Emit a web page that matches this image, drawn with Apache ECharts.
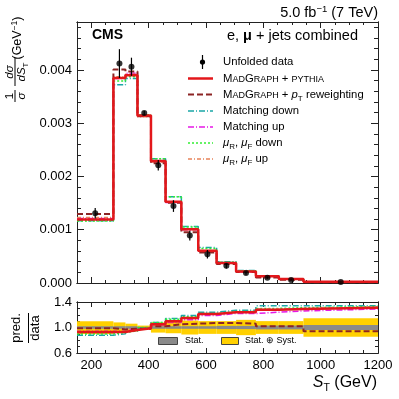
<!DOCTYPE html>
<html>
<head>
<meta charset="utf-8">
<script src="https://cdn.jsdelivr.net/npm/echarts@6/dist/echarts.min.js"></script>
<style>
  html, body { margin: 0; padding: 0; background: #fff; }
  #chart { width: 399px; height: 399px; }
</style>
</head>
<body>
<div id="chart"></div>
<script>
// S_T bins (GeV) and normalised cross sections (1/GeV)
var binEdges = [150, 277, 319, 361, 408, 459, 514, 573, 637, 705, 774, 854, 940, 1200];
var dataVals = [0.00131, 0.00412, 0.00406, 0.00319, 0.00221, 0.001445, 0.00089, 0.00054, 0.000323, 0.000187, 0.000100, 0.000058, 0.000017];
var dataErr  = [0.00010, 0.00027, 0.00017, 0.00004, 0.00010, 0.00011, 0.00009, 0.00008, 0.00005, 0.00003, 0.00002, 0.000012, 0.000005];
var madgraph  = [0.00119, 0.00385, 0.00390, 0.003146, 0.00229, 0.001525, 0.00101, 0.000604, 0.000374, 0.000217, 0.000128, 0.000075, 0.000022];
var ptReweight = [0.001295, 0.00401, 0.00397, 0.00313, 0.00225, 0.001505, 0.000955, 0.000572, 0.000355, 0.000205, 0.000104, 0.000060, 0.000016];
var matchDown = [0.00117, 0.00372, 0.00384, 0.00315, 0.002335, 0.00162, 0.00106, 0.000665, 0.00040, 0.000235, 0.000138, 0.000078, 0.000023];
var matchUp   = [0.00121, 0.00384, 0.00394, 0.00314, 0.00228, 0.00151, 0.00100, 0.00060, 0.00037, 0.00021, 0.000125, 0.000072, 0.000022];
var scaleDown = [0.001165, 0.00379, 0.00387, 0.00316, 0.002335, 0.00162, 0.00105, 0.00065, 0.00039, 0.00023, 0.000135, 0.000075, 0.000023];
var scaleUp   = [0.00123, 0.00387, 0.00392, 0.00312, 0.00227, 0.00152, 0.00100, 0.00060, 0.00037, 0.000215, 0.000127, 0.000074, 0.000022];

// ratio pred./data
var ratioMadgraph  = [0.93, 0.93, 0.96, 0.99, 1.05, 1.10, 1.15, 1.21, 1.24, 1.24, 1.28, 1.29, 1.31];
var ratioPtReweight = [0.99, 0.97, 0.98, 0.98, 1.02, 1.05, 1.06, 1.07, 1.07, 1.06, 1.02, 1.02, 0.94];
var ratioMatchDown = [0.88, 0.90, 0.94, 0.99, 1.08, 1.14, 1.19, 1.24, 1.27, 1.27, 1.34, 1.34, 1.34];
var ratioMatchUp   = [0.92, 0.93, 0.97, 0.99, 1.04, 1.08, 1.12, 1.19, 1.22, 1.22, 1.24, 1.26, 1.29];
var ratioScaleDown = [0.90, 0.92, 0.95, 1.00, 1.08, 1.13, 1.17, 1.22, 1.25, 1.25, 1.30, 1.31, 1.33];
var ratioScaleUp   = [0.95, 0.95, 0.97, 0.98, 1.04, 1.09, 1.14, 1.21, 1.24, 1.25, 1.29, 1.30, 1.32];
var statBand     = [0.02, 0.02, 0.02, 0.01, 0.02, 0.02, 0.02, 0.02, 0.025, 0.025, 0.03, 0.03, 0.04];
var statSystBand = [0.10, 0.08, 0.06, 0.03, 0.08, 0.09, 0.11, 0.10, 0.10, 0.12, 0.10, 0.10, 0.145];

// tick labels
var xLabels = [200, 400, 600, 800, 1000, 1200];
var yLabels = [0, 0.001, 0.002, 0.003, 0.004];
var ratioLabels = [0.6, 1.0, 1.4];

var FONT = '"Liberation Sans", Arial, Helvetica, sans-serif';

function range(a, b, step) {
  var out = [];
  for (var v = a; v <= b + step * 1e-6; v += step) out.push(Math.round(v / step) * step);
  return out;
}
var xMinor = range(150, 1200, 50);
var yMinor = range(0, 0.0048, 0.0002);
var ratioMinor = range(0.6, 1.4, 0.1);

function mkAxis(grid, pos, min, max, ticks, len, labels, digits) {
  var a = {
    type: 'value', gridIndex: grid, position: pos, min: min, max: max,
    axisLine: { show: true, onZero: false, lineStyle: { color: '#222', width: 1 } },
    axisTick: { show: true, inside: true, length: len, customValues: ticks, lineStyle: { color: '#222', width: 1 } },
    splitLine: { show: false },
    axisLabel: { show: false }
  };
  if (labels) {
    a.axisLabel = {
      show: true, customValues: labels, color: '#000', fontSize: 13, fontFamily: FONT,
      margin: pos === 'left' ? 5 : 6,
      formatter: function (v) { return v.toFixed(digits); }
    };
  }
  return a;
}

function stepData(vals) {
  var d = [];
  for (var i = 0; i < vals.length; i++) d.push([binEdges[i], vals[i]]);
  d.push([binEdges[binEdges.length - 1], vals[vals.length - 1]]);
  return d;
}

function stepLine(vals, panel, color, width, dash, z) {
  return {
    type: 'line', step: 'end', xAxisIndex: panel, yAxisIndex: panel,
    data: stepData(vals), symbol: 'none', silent: true, z: z,
    lineStyle: { color: color, width: width, type: dash }
  };
}

function bandSeries(half, color, z) {
  var d = [];
  for (var i = 0; i < half.length; i++) d.push([binEdges[i], binEdges[i + 1], 1 - half[i], 1 + half[i]]);
  return {
    type: 'custom', xAxisIndex: 1, yAxisIndex: 1, data: d, silent: true, z: z,
    encode: { x: [0, 1], y: [2, 3] },
    renderItem: function (params, api) {
      var a = api.coord([api.value(0), api.value(3)]);
      var b = api.coord([api.value(1), api.value(2)]);
      return { type: 'rect', shape: { x: a[0], y: a[1], width: b[0] - a[0], height: b[1] - a[1] }, style: { fill: color } };
    }
  };
}

var centers = [];
for (var i = 0; i < dataVals.length; i++) centers.push((binEdges[i] + binEdges[i + 1]) / 2);

var styles = {
  red: ['#e3171b', 2.5, 'solid'],
  brown: ['#8c2424', 2, [6, 3]],
  cyan: ['#1aa6a6', 1.5, [6, 2, 1, 2]],
  magenta: ['#e619e6', 1.5, [6, 2, 1, 2]],
  green: ['#33ee33', 1.5, [2, 2]],
  orange: ['#e8825a', 1.5, [4, 2, 1, 2]]
};

var series = [];
[[matchDown, ratioMatchDown, 'cyan'], [matchUp, ratioMatchUp, 'magenta'], [scaleDown, ratioScaleDown, 'green'],
 [scaleUp, ratioScaleUp, 'orange'], [ptReweight, ratioPtReweight, 'brown'], [madgraph, ratioMadgraph, 'red']]
.forEach(function (m, k) {
  var s = styles[m[2]];
  series.push(stepLine(m[0], 0, s[0], s[1], s[2], 3 + k));
  series.push(stepLine(m[1], 1, s[0], s[1], s[2], 3 + k));
});
series.push(bandSeries(statSystBand, '#ffd000', 1));
series.push(bandSeries(statBand, '#8a8a8a', 2));
series.push({
  type: 'custom', xAxisIndex: 0, yAxisIndex: 0, silent: true, z: 10,
  data: dataVals.map(function (v, i) { return [centers[i], v - dataErr[i], v + dataErr[i]]; }),
  encode: { x: 0, y: [1, 2] },
  renderItem: function (params, api) {
    var p1 = api.coord([api.value(0), api.value(1)]);
    var p2 = api.coord([api.value(0), api.value(2)]);
    return { type: 'line', shape: { x1: p1[0], y1: p1[1], x2: p2[0], y2: p2[1] }, style: { stroke: '#000', lineWidth: 1.2 } };
  }
});
series.push({
  type: 'scatter', xAxisIndex: 0, yAxisIndex: 0, silent: true, z: 11,
  symbol: 'circle', symbolSize: 6, itemStyle: { color: '#000' },
  data: dataVals.map(function (v, i) { return [centers[i], v]; })
});

// text helpers
function txt(x, y, text, rich, opt) {
  opt = opt || {};
  return {
    type: 'text', x: x, y: y, rotation: opt.rot || 0, z: 100,
    style: {
      text: text, rich: rich, fill: '#000', fontFamily: FONT, fontSize: opt.size || 10.5,
      fontWeight: opt.weight || 'normal',
      align: opt.align || 'left', textAlign: opt.align || 'left',
      verticalAlign: opt.va || 'top', textVerticalAlign: opt.va || 'top'
    }
  };
}
function ln(x1, y1, x2, y2, color, w, dash) {
  return { type: 'line', z: 100, shape: { x1: x1, y1: y1, x2: x2, y2: y2 }, style: { stroke: color, lineWidth: w, lineDash: dash || null } };
}
// rich token: box of height h, top aligned, so glyphs can be lowered or raised
function tok(size, h, extra) {
  var t = { fontSize: size, height: h, lineHeight: h, verticalAlign: 'top', fontFamily: FONT };
  for (var k in extra) t[k] = extra[k];
  return t;
}

var leg = {
  n: tok(11.3, 13),
  s: tok(9, 14.6),
  it: tok(11.3, 13, { fontStyle: 'italic' }),
  sub: tok(8, 21.3)
};
var big = {
  n: tok(14.5, 16),
  b: tok(14.5, 16, { fontWeight: 'bold' }),
  sup: tok(9.5, 9.6)
};
var xt = {
  it: tok(16, 17, { fontStyle: 'italic' }),
  n: tok(16, 17),
  sub: tok(10.5, 27.8)
};
var yt = {
  n: tok(11.5, 12),
  it: tok(11.5, 12, { fontStyle: 'italic' }),
  sub: tok(8, 20.4),
  g: tok(12.5, 14),
  sup: tok(8.5, 7.8)
};

var rowY = [62, 78.5, 94.5, 111, 127, 143, 159];
var graphics = [
  txt(378, 5, '{n|5.0 fb}{sup|\u22121}{n| (7 TeV)}', big, { align: 'right' }),
  txt(92, 28, 'CMS', null, { size: 14, weight: 'bold' }),
  txt(227, 28, '{n|e, }{b|\u03bc}{n| + jets combined}', big),
  // legend
  ln(202.5, rowY[0] - 7, 202.5, rowY[0] + 7, '#000', 1.2),
  { type: 'circle', z: 100, shape: { cx: 202.5, cy: rowY[0], r: 2.6 }, style: { fill: '#000' } },
  txt(223, rowY[0] - 6.5, '{n|Unfolded data}', leg),
  ln(188, rowY[1], 213, rowY[1], styles.red[0], 2.5),
  txt(223, rowY[1] - 6.5, '{n|M}{s|AD}{n|G}{s|RAPH}{n| + }{s|PYTHIA}', leg),
  ln(188, rowY[2], 213, rowY[2], styles.brown[0], 2, [6, 3]),
  txt(223, rowY[2] - 6.5, '{n|M}{s|AD}{n|G}{s|RAPH}{n| + }{it|p}{sub|T}{n| reweighting}', leg),
  ln(188, rowY[3], 213, rowY[3], styles.cyan[0], 1.5, [6, 2, 1, 2]),
  txt(223, rowY[3] - 6.5, '{n|Matching down}', leg),
  ln(188, rowY[4], 213, rowY[4], styles.magenta[0], 1.5, [6, 2, 1, 2]),
  txt(223, rowY[4] - 6.5, '{n|Matching up}', leg),
  ln(188, rowY[5], 213, rowY[5], styles.green[0], 1.5, [2, 2]),
  txt(223, rowY[5] - 6.5, '{it|\u03bc}{sub|R}{n|, }{it|\u03bc}{sub|F}{n| down}', leg),
  ln(188, rowY[6], 213, rowY[6], styles.orange[0], 1.5, [4, 2, 1, 2]),
  txt(223, rowY[6] - 6.5, '{it|\u03bc}{sub|R}{n|, }{it|\u03bc}{sub|F}{n| up}', leg),
  // y title (main)
  txt(4, 96, '{n|1}', yt, { rot: Math.PI / 2, align: 'center' }),
  ln(15, 90, 15, 102, '#000', 1),
  txt(16, 96, '{it|\u03c3}', yt, { rot: Math.PI / 2, align: 'center' }),
  txt(4, 72, '{it|d\u03c3}', yt, { rot: Math.PI / 2, align: 'center' }),
  ln(15, 58, 15, 86, '#000', 1),
  txt(16, 72, '{it|dS}{sub|T}', yt, { rot: Math.PI / 2, align: 'center' }),
  txt(11, 38, '{g|(GeV}{sup|\u22121}{g|)}', yt, { rot: Math.PI / 2, align: 'center' }),
  // y title (ratio)
  txt(10, 328, 'pred.', null, { rot: Math.PI / 2, align: 'center', size: 13 }),
  ln(28.5, 313, 28.5, 343, '#000', 1),
  txt(29, 328, 'data', null, { rot: Math.PI / 2, align: 'center', size: 13 }),
  // x title
  txt(377, 374.5, '{it|S}{sub|T}{n| (GeV)}', xt, { align: 'right' }),
  // ratio legend
  { type: 'rect', z: 100, shape: { x: 158.5, y: 337.5, width: 19, height: 7 }, style: { fill: '#8a8a8a', stroke: '#444', lineWidth: 1 } },
  txt(185, 336, 'Stat.', null, { size: 9 }),
  { type: 'rect', z: 100, shape: { x: 221.5, y: 337.5, width: 17, height: 7 }, style: { fill: '#ffd000', stroke: '#444', lineWidth: 1 } },
  txt(245, 336, 'Stat. \u2295 Syst.', null, { size: 9 })
];

var myChart = echarts.init(document.getElementById('chart'), null, { renderer: 'canvas' });
var option = {
  animation: false,
  backgroundColor: '#fff',
  grid: [
    { left: 77, top: 22, width: 301, height: 261 },
    { left: 77, top: 302, width: 301, height: 51 }
  ],
  xAxis: [
    mkAxis(0, 'bottom', 150, 1200, xLabels, 6),
    mkAxis(1, 'bottom', 150, 1200, xLabels, 5, xLabels, 0),
    mkAxis(0, 'bottom', 150, 1200, xMinor, 3),
    mkAxis(0, 'top', 150, 1200, xLabels, 6),
    mkAxis(0, 'top', 150, 1200, xMinor, 3),
    mkAxis(1, 'bottom', 150, 1200, xMinor, 3),
    mkAxis(1, 'top', 150, 1200, xLabels, 5),
    mkAxis(1, 'top', 150, 1200, xMinor, 3)
  ],
  yAxis: [
    mkAxis(0, 'left', 0, 0.0049, yLabels, 7, yLabels, 3),
    mkAxis(1, 'left', 0.6, 1.4, ratioLabels, 6, ratioLabels, 1),
    mkAxis(0, 'left', 0, 0.0049, yMinor, 4),
    mkAxis(0, 'right', 0, 0.0049, yLabels, 7),
    mkAxis(0, 'right', 0, 0.0049, yMinor, 4),
    mkAxis(1, 'left', 0.6, 1.4, ratioMinor, 3),
    mkAxis(1, 'right', 0.6, 1.4, ratioLabels, 6),
    mkAxis(1, 'right', 0.6, 1.4, ratioMinor, 3)
  ],
  series: series,
  graphic: { elements: graphics }
};
myChart.setOption(option);
window.addEventListener('resize', myChart.resize);
</script>
</body>
</html>
